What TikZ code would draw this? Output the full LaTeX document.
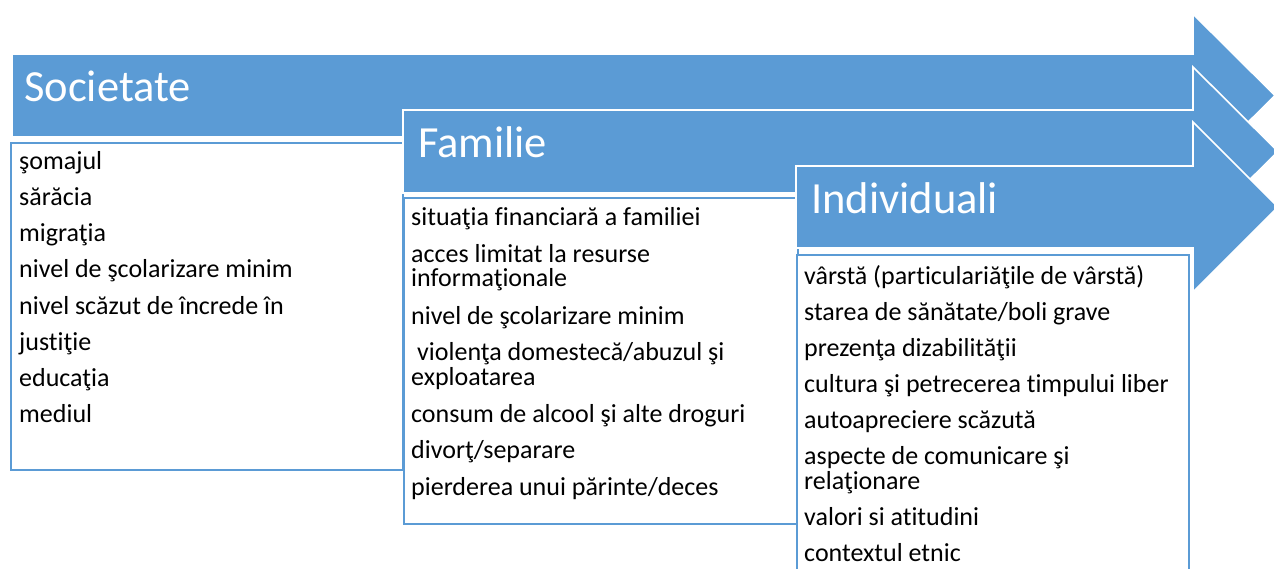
\documentclass[tikz,border=0pt]{standalone}
\usepackage{fontspec}
\setmainfont{Carlito}[Ligatures=NoCommon]
\definecolor{accent}{HTML}{5B9BD5}
\begin{document}
\begin{tikzpicture}[x=1pt,y=-1pt,
  arrowshape/.style={fill=accent,draw=white,line width=1.6pt,line join=miter},
  listbox/.style={draw=accent,fill=white,line width=1.6pt,anchor=north west,inner sep=0},
  titletext/.style={text=white,font=\fontsize{44.5}{44}\selectfont,anchor=base west,inner sep=0},
  item/.style={text=black,font=\fontsize{26}{25}\selectfont,anchor=base west,inner sep=0}]
\useasboundingbox (0,0) rectangle (1274,569);
\clip (0,0) rectangle (1274,569);
\fill[white] (0,0) rectangle (1274,569);

% Societate
\draw[arrowshape] (12,54) -- (1193,54) -- (1193,14) -- (1275,95.5) -- (1193,177) -- (1193,137) -- (12,137) -- cycle;
\node[titletext] (t1) at (24,102) {Societate};
\node[listbox,minimum width=392pt,minimum height=327pt] (b1) at (10,142) {};
\node[item] (s1) at (19,170) {şomajul};
\node[item] (s2) at (19,206) {sărăcia};
\node[item] (s3) at (19,242) {migraţia};
\node[item] (s4) at (19,278) {nivel de şcolarizare minim};
\node[item] (s5) at (19,314) {nivel scăzut de încrede în};
\node[item] (s6) at (19,350) {justiţie};
\node[item] (s7) at (19,386) {educaţia};
\node[item] (s8) at (19,422) {mediul};

% Familie
\draw[arrowshape] (403,110) -- (1193,110) -- (1193,67) -- (1278,151.5) -- (1193,236) -- (1193,193) -- (403,193) -- cycle;
\node[titletext] (t2) at (418,158) {Familie};
\node[listbox,minimum width=394pt,minimum height=326pt] (b2) at (403,197) {};
\node[item] (f1) at (411,226) {situaţia financiară a familiei};
\node[item] (f2) at (411,263) {acces limitat la resurse};
\node[item] (f3) at (411,287) {informaţionale};
\node[item] (f4) at (411,324) {nivel de şcolarizare minim};
\node[item] (f5) at (417,360) {violenţa domestecă/abuzul şi};
\node[item] (f6) at (411,385) {exploatarea};
\node[item] (f7) at (411,422) {consum de alcool şi alte droguri};
\node[item] (f8) at (411,458) {divorţ/separare};
\node[item] (f9) at (411,495) {pierderea unui părinte/deces};

% Individuali
\draw[arrowshape] (796,166) -- (1193,166) -- (1193,122) -- (1278,207) -- (1193,292) -- (1193,248) -- (796,248) -- cycle;
\node[titletext] (t3) at (811,214) {Individuali};
\node[listbox,minimum width=392pt,minimum height=340pt] (b3) at (796,254) {};
\node[item] (i1) at (804,284) {vârstă (particulariăţile de vârstă)};
\node[item] (i2) at (804,320) {starea de sănătate/boli grave};
\node[item] (i3) at (804,356) {prezenţa dizabilităţii};
\node[item] (i4) at (804,392) {cultura şi petrecerea timpului liber};
\node[item] (i5) at (804,428) {autoapreciere scăzută};
\node[item] (i6) at (804,464) {aspecte de comunicare şi};
\node[item] (i7) at (804,489) {relaţionare};
\node[item] (i8) at (804,525) {valori si atitudini};
\node[item] (i9) at (804,561) {contextul etnic};
\end{tikzpicture}
\end{document}
